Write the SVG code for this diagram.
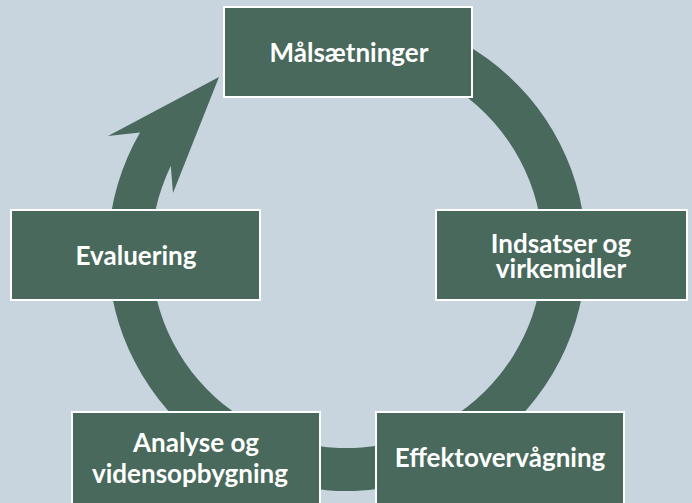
<svg xmlns="http://www.w3.org/2000/svg" width="692" height="503" viewBox="0 0 692 503">
<style>
.box{fill:#48695c;stroke:#ffffff;stroke-width:2}
.lbl{fill:#ffffff;font-family:Lato,"Liberation Sans",sans-serif;font-weight:bold;font-size:26px;text-anchor:middle}
.ring{fill:#48695c}
</style>
<rect width="692" height="503" fill="#c8d5df"/>
<g id="connectors">
<path class="ring" d="M 246 35.4 A 239 239 0 1 1 140 132.5 L 108 136 L 219 77 L 173 193 L 170.8 166.1 A 196 196 0 1 0 264.2 74.4 Z"/>
</g>
<g id="node-malsaetninger">
<rect class="box" x="224" y="7" width="248" height="90"/>
<text class="lbl" x="349" y="62">Målsætninger</text>
</g>
<g id="node-indsatser">
<rect class="box" x="436" y="210" width="251" height="90"/>
<text class="lbl" x="561" y="253">Indsatser og</text>
<text class="lbl" x="561" y="278">virkemidler</text>
</g>
<g id="node-effekt">
<rect class="box" x="376" y="412" width="248" height="95"/>
<text class="lbl" x="500" y="467">Effektovervågning</text>
</g>
<g id="node-analyse">
<rect class="box" x="72" y="412" width="248" height="95"/>
<text class="lbl" x="196" y="452">Analyse og</text>
<text class="lbl" x="190" y="483">vidensopbygning</text>
</g>
<g id="node-evaluering">
<rect class="box" x="11" y="210" width="249" height="90"/>
<text class="lbl" x="136" y="265">Evaluering</text>
</g>
</svg>
